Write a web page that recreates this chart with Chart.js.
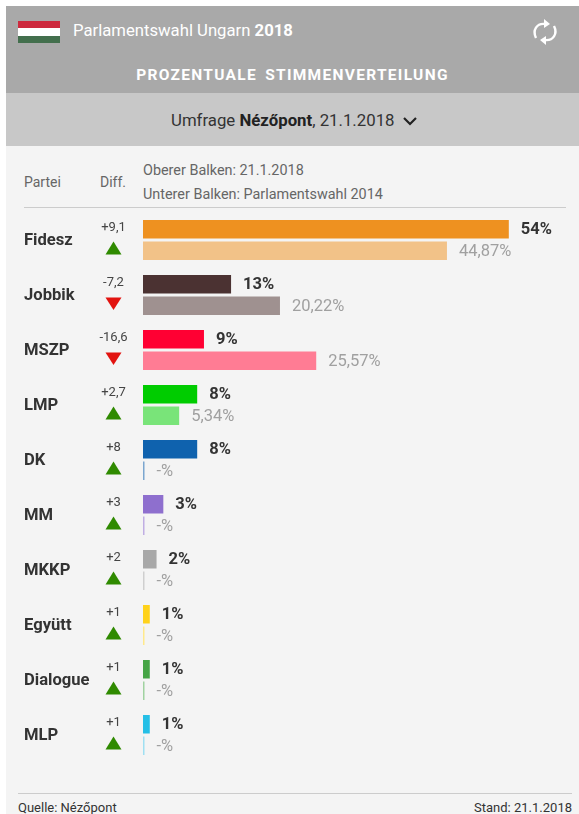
<!DOCTYPE html>
<html><head><meta charset="utf-8">
<script src="https://cdn.jsdelivr.net/npm/chart.js@4"></script>
<style>
html,body{margin:0;padding:0;background:#fff;width:579px;height:814px;overflow:hidden;font-family:Roboto,sans-serif}
.a{position:absolute;white-space:nowrap}
</style></head><body>
<div class="a" style="left:6px;top:6px;width:573px;height:87px;background:#a9a9a9"></div>
<div class="a" style="left:6px;top:93px;width:573px;height:53px;background:#c8c8c8"></div>
<div class="a" style="left:6px;top:146px;width:573px;height:668px;background:#f4f4f4"></div>
<div class="a" style="left:18px;top:21px;width:42px;height:7px;background:#cd2a3e"></div>
<div class="a" style="left:18px;top:28px;width:42px;height:8px;background:#fff"></div>
<div class="a" style="left:18px;top:36px;width:42px;height:7px;background:#436f4d"></div>
<div class="a" style="left:73px;top:22px;font-size:16.7px;line-height:18px;color:#fff">Parlamentswahl Ungarn <b>2018</b></div>
<svg class="a" style="left:531px;top:16px" width="28" height="32" viewBox="0 0 28 32" fill="none" stroke="#fff" stroke-width="2.4">
<path d="M5 22 C1 14 6 7 14 8"/><path d="M13 3 L19 8 L13 12 Z" fill="#fff" stroke="none"/>
<path d="M23 10 C27 18 22 25 14 24"/><path d="M15 29 L9 24 L15 20 Z" fill="#fff" stroke="none"/></svg>
<div class="a" style="left:6px;width:573px;text-align:center;top:66px;font-size:15.5px;line-height:18px;font-weight:700;color:#fff;letter-spacing:1.3px;word-spacing:3px">PROZENTUALE STIMMENVERTEILUNG</div>
<div class="a" style="left:171px;top:111px;font-size:16.8px;line-height:18px;color:#333">Umfrage <b style="color:#222">Nézőpont</b>, 21.1.2018</div>
<svg class="a" style="left:402px;top:115px" width="16" height="12" fill="none" stroke="#222" stroke-width="2.2"><path d="M2 3 L8 9 L14 3"/></svg>
<div class="a" style="left:24px;top:175px;font-size:14px;line-height:15px;color:#666">Partei</div>
<div class="a" style="left:100px;top:175px;font-size:14px;line-height:15px;color:#666">Diff.</div>
<div class="a" style="left:143px;top:163px;font-size:14.4px;line-height:15px;color:#666">Oberer Balken: 21.1.2018</div>
<div class="a" style="left:143px;top:187px;font-size:14.4px;line-height:15px;color:#666">Unterer Balken: Parlamentswahl 2014</div>
<div class="a" style="left:24px;top:207px;width:542px;height:1px;background:#ccc"></div>
<div class="a" style="left:18px;top:793px;width:554px;height:1px;background:#ccc"></div>
<div class="a" style="left:18px;top:800px;font-size:13px;line-height:15px;color:#333">Quelle: Nézőpont</div>
<div class="a" style="right:7px;top:800px;font-size:13px;line-height:15px;color:#333">Stand: 21.1.2018</div>
<canvas id="c" class="a" style="left:0;top:0" width="579" height="814"></canvas>
<script>
const parties=['Fidesz','Jobbik','MSZP','LMP','DK','MM','MKKP','Együtt','Dialogue','MLP'];
const poll2018=[54,13,9,8,8,3,2,1,1,1];
const vote2014=[44.87,20.22,25.57,5.34,null,null,null,null,null,null];
const diffs=['+9,1','-7,2','-16,6','+2,7','+8','+3','+2','+1','+1','+1'];
const colorsTop=['#ee9120','#4b3232','#ff0033','#00cc00','#0f62ae','#8e6fce','#a8a8a8','#ffd21a','#46a546','#25bfe6'];
const colorsLow=['#f2c288','#9f9190','#ff7c94','#79e479','#7ba6cf','#c0aee3','#cfcfcf','#ffe98c','#a0d2a0','#9fe0f2'];
const fmt=v=>v===null?'-%':String(v).replace('.',',')+'%';
const overlay={id:'overlay',afterDatasetsDraw(ch){
  const c=ch.ctx,y=ch.scales.y;
  c.save();c.textBaseline='middle';
  ch.getDatasetMeta(0).data.forEach((b,i)=>{
    c.font='700 16.5px Roboto';c.fillStyle='#333';c.textAlign='left';
    c.fillText(poll2018[i]+'%',b.x+12,b.y+1);
  });
  ch.getDatasetMeta(1).data.forEach((b,i)=>{
    c.font='400 16.5px Roboto';c.fillStyle='#a0a0a0';c.textAlign='left';
    c.fillText(fmt(vote2014[i]),b.x+12,b.y+1);
  });
  parties.forEach((p,i)=>{
    const m=y.getPixelForValue(i);
    c.font='400 13px Roboto';c.fillStyle='#444';c.textAlign='center';
    c.fillText(diffs[i],113.5,m-12);
    const up=diffs[i][0]==='+';
    c.fillStyle=up?'#2f8a00':'#e2130f';
    c.beginPath();
    if(up){c.moveTo(113.5,m+1.5);c.lineTo(105.5,m+14.5);c.lineTo(121.5,m+14.5);}
    else{c.moveTo(105.5,m+2.5);c.lineTo(121.5,m+2.5);c.lineTo(113.5,m+15);}
    c.closePath();c.fill();
  });
  c.restore();
}};
new Chart(document.getElementById('c'),{
  type:'bar',
  data:{labels:parties,datasets:[
    {label:'21.1.2018',data:poll2018,backgroundColor:colorsTop},
    {label:'Parlamentswahl 2014',data:vote2014.map(v=>v===null?0:v),backgroundColor:colorsLow,minBarLength:1.5}
  ]},
  options:{
    indexAxis:'y',responsive:false,animation:false,
    layout:{padding:{left:24,right:16,top:212.5,bottom:51.5}},
    categoryPercentage:.782,barPercentage:.87,
    plugins:{legend:{display:false},tooltip:{enabled:false}},
    scales:{
      x:{display:false,min:0,max:62},
      y:{
        afterFit(s){s.width=119},
        grid:{display:false},border:{display:false},
        ticks:{crossAlign:'far',padding:0,labelOffset:1,color:'#333',font:{size:16.6,weight:'700',family:'Roboto'}}
      }
    }
  },
  plugins:[overlay]
});
</script>
</body></html>
